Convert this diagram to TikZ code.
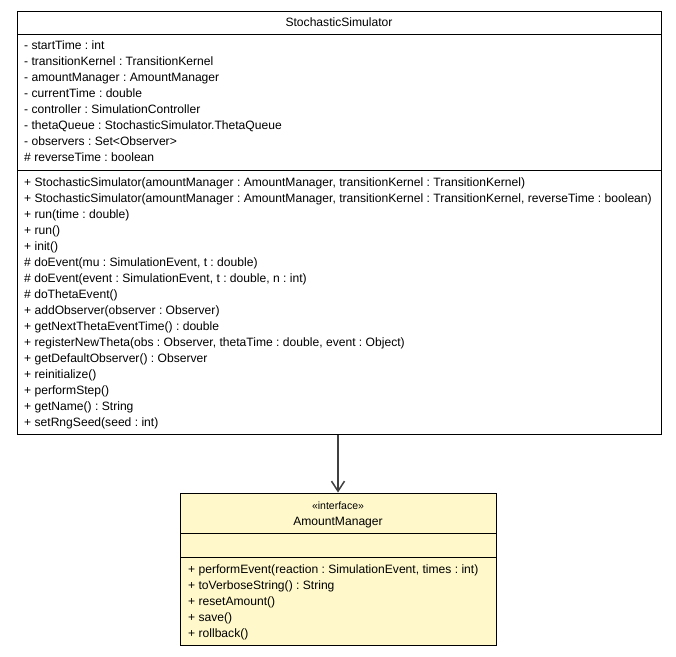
\documentclass[tikz,border=0pt]{standalone}
\usepackage{fontspec}
\setmainfont{Liberation Sans}
\usetikzlibrary{arrows.meta}
\frenchspacing

\definecolor{umlyellow}{HTML}{FEF8CA}
\definecolor{linkgray}{HTML}{404040}

\tikzset{
  compartment/.style={draw, rectangle, line width=1pt, inner sep=0pt},
  member/.style={anchor=base west, inner sep=0pt, font=\fontsize{12.1}{14}\selectfont},
  classname/.style={anchor=base, inner sep=0pt, font=\fontsize{12.1}{14}\selectfont},
}

\begin{document}
\begin{tikzpicture}[x=1pt, y=-1pt]
\useasboundingbox (0,0) rectangle (676,656);

% StochasticSimulator
\node[compartment, minimum width=644pt, minimum height=23pt] (simTitle) at (339,22.5) {};
\node[compartment, minimum width=644pt, minimum height=136pt] (simAttrs) at (339,102) {};
\node[compartment, minimum width=644pt, minimum height=264pt] (simOps) at (339,302) {};
\node[classname] (simName) at (339,26.5) {StochasticSimulator};

\foreach \t [count=\i] in {
  {- startTime : int},
  {- transitionKernel : TransitionKernel},
  {- amountManager : AmountManager},
  {- currentTime : double},
  {- controller : SimulationController},
  {- thetaQueue : StochasticSimulator.ThetaQueue},
  {- observers : Set<Observer>},
  {\# reverseTime : boolean}}
  \node[member] (simAttr\i) at (24,{33.5+16*\i}) {\t};

\foreach \t [count=\i] in {
  {+ StochasticSimulator(amountManager : AmountManager, transitionKernel : TransitionKernel)},
  {+ StochasticSimulator(amountManager : AmountManager, transitionKernel : TransitionKernel, reverseTime : boolean)},
  {+ run(time : double)},
  {+ run()},
  {+ init()},
  {\# doEvent(mu : SimulationEvent, t : double)},
  {\# doEvent(event : SimulationEvent, t : double, n : int)},
  {\# doThetaEvent()},
  {+ addObserver(observer : Observer)},
  {+ getNextThetaEventTime() : double},
  {+ registerNewTheta(obs : Observer, thetaTime : double, event : Object)},
  {+ getDefaultObserver() : Observer},
  {+ reinitialize()},
  {+ performStep()},
  {+ getName() : String},
  {+ setRngSeed(seed : int)}}
  \node[member] (simOp\i) at (24,{170+16*\i}) {\t};

% AmountManager
\node[compartment, fill=umlyellow, minimum width=316pt, minimum height=40pt] (mgrTitle) at (338,513) {};
\node[compartment, fill=umlyellow, minimum width=316pt, minimum height=24pt] (mgrAttrs) at (338,545) {};
\node[compartment, fill=umlyellow, minimum width=316pt, minimum height=88pt] (mgrOps) at (338,601) {};
\node[classname, font=\fontsize{10.5}{12}\selectfont] (mgrStereo) at (338,509) {«interface»};
\node[classname] (mgrName) at (338,525) {AmountManager};

\foreach \t [count=\i] in {
  {+ performEvent(reaction : SimulationEvent, times : int)},
  {+ toVerboseString() : String},
  {+ resetAmount()},
  {+ save()},
  {+ rollback()}}
  \node[member] (mgrOp\i) at (188,{557+16*\i}) {\t};

% Arrow
\draw[-{Straight Barb[length=10pt, width=13pt]}, line width=1.5pt, linkgray] (simOps.south -| mgrTitle.north) -- (mgrTitle.north);
\end{tikzpicture}
\end{document}
